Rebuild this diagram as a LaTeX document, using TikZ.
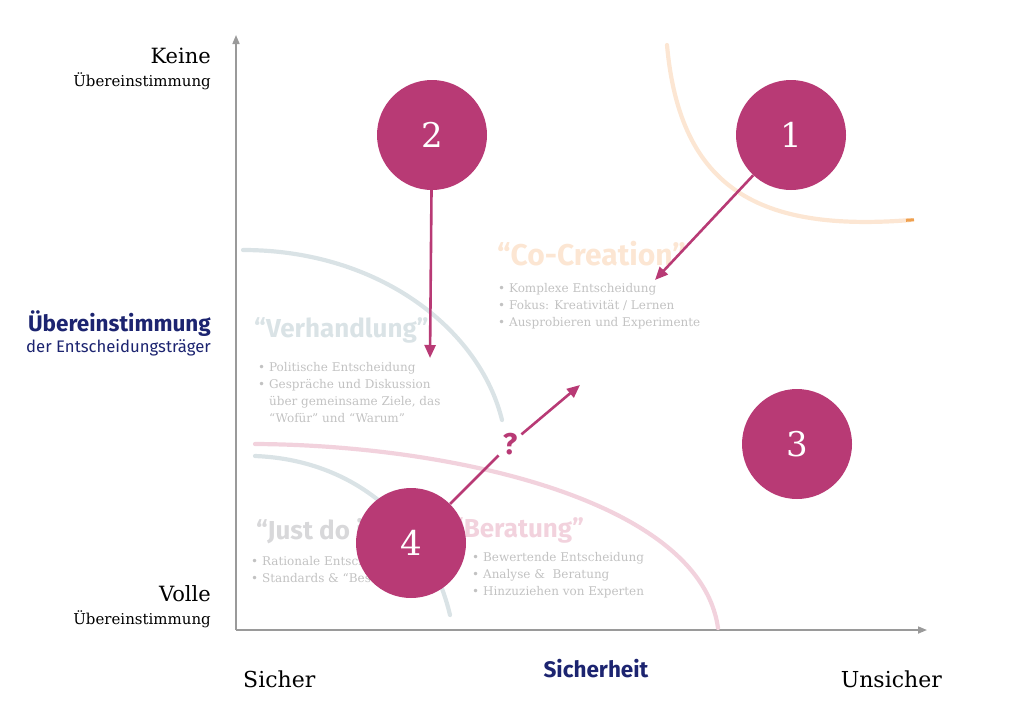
\documentclass[tikz,border=0pt]{standalone}
\usepackage{fontspec}
\setmainfont{DejaVu Serif}
\setsansfont{Fira Sans}
\usepackage{tikz}
\usetikzlibrary{arrows.meta}

\definecolor{circ}{HTML}{B83A75}
\definecolor{navy}{HTML}{1C2470}
\definecolor{axisgray}{HTML}{9A9A9A}
\definecolor{fadeblue}{HTML}{DAE3E6}
\definecolor{fadeorange}{HTML}{FCE6D3}
\definecolor{fadepink}{HTML}{F2D2DD}
\definecolor{fadegray}{HTML}{D8D8DA}
\definecolor{fadetext}{HTML}{C2C2C2}
\definecolor{tiporange}{HTML}{EFA04E}

\begin{document}
\begin{tikzpicture}[x=1pt,y=-1pt,
  numcirc/.style={circle, fill=circ, minimum size=110pt, inner sep=0pt, text=white,
    font=\fontsize{34}{34}\selectfont},
  pointer/.style={circ, line width=2.6pt, -{Triangle[length=13pt,width=11pt]}},
  axisline/.style={axisgray, line width=1.6pt, -{Triangle[length=9pt,width=7pt]}},
  zone/.style={line width=4.2pt, line cap=round},
  heading/.style={anchor=base west, inner sep=0pt, font=\sffamily\bfseries\fontsize{26}{26}\selectfont},
  bullets/.style={anchor=north west, inner sep=0pt, align=left, text=fadetext,
    font=\fontsize{12}{17}\selectfont},
  sidelabel/.style={anchor=base east, inner sep=0pt}]
\newcommand{\Xorig}{236}; % x of the origin
\newcommand{\Yorig}{630}; % y of the origin

\useasboundingbox (0,0) rectangle (1024,726);

\coordinate (O)  at (\Xorig, \Yorig);
\coordinate (YY) at (\Xorig, 35);
\coordinate (XX) at (927, \Yorig);

% axes
\draw[axisline] (O) -- (YY);
\draw[axisline] (O) -- (XX);

% zone borders
\draw[zone, fadeorange] (667,45) .. controls (680,190) and (760,232) .. (911,220);
\draw[line width=3pt, tiporange] (906,220.3) -- (914,219.8);
\draw[zone, fadeblue] (243,250) .. controls (380,250) and (480,330) .. (502,420);
\draw[zone, fadeblue] (255,456) .. controls (360,460) and (430,530) .. (450,615);
\draw[zone, fadepink] (255,444) .. controls (450,445) and (700,500) .. (718,628);

% zone titles
\node[heading, text=fadeblue]   (verh) at (254,337) {“Verhandlung”};
\node[heading, text=fadeorange, font=\sffamily\bfseries\fontsize{30}{30}\selectfont] (cocr) at (497,265) {“Co-Creation”};
\node[heading, text=fadegray]   (just) at (256,539) {“Just do it”};
\node[heading, text=fadepink]   (bera) at (452,537) {“Beratung”};

\node[bullets] (verhtxt) at (258,362) {\textbullet\ Politische Entscheidung\\
  \textbullet\ Gespräche und Diskussion\\
  \phantom{\textbullet\ }über gemeinsame Ziele, das\\
  \phantom{\textbullet\ }“Wofür” und “Warum”};
\node[bullets] (cocrtxt) at (498,283) {\textbullet\ Komplexe Entscheidung\\
  \textbullet\ Fokus: Kreativität / Lernen\\
  \textbullet\ Ausprobieren und Experimente};
\node[bullets] (justtxt) at (251,556) {\textbullet\ Rationale Entscheidung\\
  \textbullet\ Standards \& “Best Practice”};
\node[bullets] (beratxt) at (472,552) {\textbullet\ Bewertende Entscheidung\\
  \textbullet\ Analyse \&\ \ Beratung\\
  \textbullet\ Hinzuziehen von Experten};

% axis labels
\node[sidelabel, font=\fontsize{21}{21}\selectfont] (keine) at (211,63) {Keine};
\node[sidelabel, font=\fontsize{15}{15}\selectfont] (keineu) at (211,86) {Übereinstimmung};
\node[sidelabel, text=navy, font=\sffamily\bfseries\fontsize{22.5}{22.5}\selectfont] (ueb) at (211,331) {Übereinstimmung};
\node[sidelabel, text=navy, font=\sffamily\fontsize{16.7}{16.7}\selectfont] (uebd) at (211,352) {der Entscheidungsträger};
\node[sidelabel, font=\fontsize{21}{21}\selectfont] (volle) at (211,601) {Volle};
\node[sidelabel, font=\fontsize{15}{15}\selectfont] (volleu) at (211,624) {Übereinstimmung};

\node[anchor=base west, inner sep=0pt, font=\fontsize{22}{22}\selectfont] (sicher) at (243,687) {Sicher};
\node[anchor=base, inner sep=0pt, text=navy, font=\sffamily\bfseries\fontsize{22.5}{22.5}\selectfont] (sicherh) at (596,677) {Sicherheit};
\node[anchor=base east, inner sep=0pt, font=\fontsize{22}{22}\selectfont] (unsicher) at (942,687) {Unsicher};

% numbered circles
\node[numcirc] (c1) at (791,135) {1};
\node[numcirc] (c2) at (432,135) {2};
\node[numcirc] (c3) at (797,444) {3};
\node[numcirc] (c4) at (411,543) {4};

\coordinate (tip1) at (655,280);
\coordinate (tip2) at (430,358);
\coordinate (tip4) at (580,385);

\node[fill=white, inner sep=4pt, text=circ, font=\sffamily\bfseries\fontsize{30}{30}\selectfont] (q) at (510,444) {?};

% pointers
\draw[pointer] (c1) -- (tip1);
\draw[pointer] (c2) -- (tip2);
\draw[circ, line width=2.6pt] (c4) -- (q);
\draw[pointer] (q) -- (tip4);
\end{tikzpicture}
\end{document}
